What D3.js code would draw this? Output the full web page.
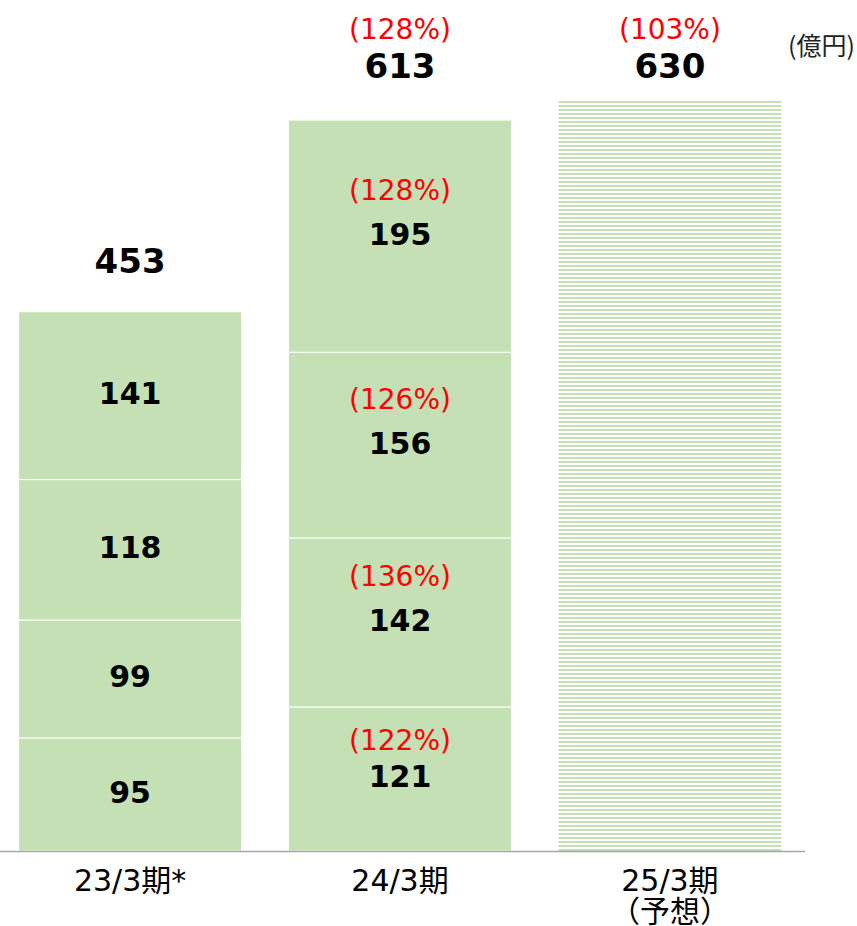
<!DOCTYPE html>
<html>
<head>
<meta charset="utf-8">
<script src="https://cdn.jsdelivr.net/npm/d3@7"></script>
<style>
  body { margin: 0; background: #fff; }
  text { font-family: "DejaVu Sans", "Noto Sans CJK JP", sans-serif; }
</style>
</head>
<body>
<div class="chart"></div>
<script>
var svgWidth = 857;
var svgHeight = 926;

// data
var categories = ["23/3期*", "24/3期", "25/3期"];
var categoryNotes = ["", "", "（予想）"];
var quarters = ["Q1", "Q2", "Q3", "Q4"];
var q1 = [95, 121, null];
var q2 = [99, 142, null];
var q3 = [118, 156, null];
var q4 = [141, 195, null];
var q1Growth = [null, "122%", null];
var q2Growth = [null, "136%", null];
var q3Growth = [null, "126%", null];
var q4Growth = [null, "128%", null];
var totals = [453, 613, 630];
var totalGrowth = [null, "128%", "103%"];
var forecast = [false, false, true];
var unitLabel = "(億円)";

var green = "#c5e0b4";
var red = "#ff0000";

var svg = d3.select(".chart")
  .append("svg")
  .attr("width", svgWidth)
  .attr("height", svgHeight);

// striped fill for the forecast bar
var pattern = svg.append("defs").append("pattern")
  .attr("id", "stripes")
  .attr("patternUnits", "userSpaceOnUse")
  .attr("width", 8)
  .attr("height", 4)
  .attr("y", 101);
pattern.append("rect")
  .attr("width", 8).attr("height", 2)
  .attr("fill", green);

var x = d3.scaleBand()
  .domain(categories)
  .range([-5, 805])
  .paddingInner(0.174)
  .paddingOuter(0.0875);

var y = d3.scaleLinear()
  .domain([0, 630])
  .range([851, 101]);

// build stacked rows
var rows = categories.map(function(c, i) {
  var row = { category: c };
  row.Q1 = q1[i] || 0; row.Q2 = q2[i] || 0; row.Q3 = q3[i] || 0; row.Q4 = q4[i] || 0;
  return row;
});
var growth = { Q1: q1Growth, Q2: q2Growth, Q3: q3Growth, Q4: q4Growth };
var stack = d3.stack().keys(quarters)(rows);

var segs = [];
stack.forEach(function(layer) {
  layer.forEach(function(d, i) {
    if (d[1] - d[0] > 0) {
      segs.push({ key: layer.key, i: i, y0: d[0], y1: d[1], value: d[1] - d[0], pct: growth[layer.key][i] });
    }
  });
});

var chartGroup = svg.append("g");

chartGroup.selectAll("rect.seg")
  .data(segs)
  .enter()
  .append("rect")
  .attr("class", "seg")
  .attr("x", d => x(categories[d.i]))
  .attr("y", d => y(d.y1))
  .attr("width", x.bandwidth())
  .attr("height", d => y(d.y0) - y(d.y1))
  .attr("fill", green)
  .attr("stroke", "#fff")
  .attr("stroke-width", 1);

// forecast bar (total only)
chartGroup.selectAll("rect.fc")
  .data(totals.map((t, i) => ({ t: t, i: i })).filter(d => forecast[d.i]))
  .enter()
  .append("rect")
  .attr("class", "fc")
  .attr("x", d => x(categories[d.i]))
  .attr("y", d => y(d.t))
  .attr("width", x.bandwidth())
  .attr("height", d => y(0) - y(d.t))
  .attr("fill", "url(#stripes)");

// segment values
chartGroup.selectAll("text.val")
  .data(segs)
  .enter()
  .append("text")
  .attr("class", "val")
  .attr("x", d => x(categories[d.i]) + x.bandwidth() / 2)
  .attr("y", d => (y(d.y0) + y(d.y1)) / 2 - 2)
  .attr("text-anchor", "middle")
  .attr("dominant-baseline", "central")
  .attr("font-size", 30)
  .attr("font-weight", "bold")
  .attr("fill", "#000")
  .text(d => d.value);

chartGroup.selectAll("text.pct")
  .data(segs.filter(d => d.pct))
  .enter()
  .append("text")
  .attr("class", "pct")
  .attr("x", d => x(categories[d.i]) + x.bandwidth() / 2)
  .attr("y", d => Math.max((y(d.y0) + y(d.y1)) / 2 - 46, y(d.y1) + 34))
  .attr("text-anchor", "middle")
  .attr("dominant-baseline", "central")
  .attr("font-size", 28)
  .attr("fill", red)
  .text(d => "(" + d.pct + ")");

// totals
var totalData = totals.map((t, i) => ({ t: t, i: i, pct: totalGrowth[i] }));
chartGroup.selectAll("text.total")
  .data(totalData)
  .enter()
  .append("text")
  .attr("class", "total")
  .attr("x", d => x(categories[d.i]) + x.bandwidth() / 2)
  .attr("y", d => d.pct ? 66 : y(d.t) - 51)
  .attr("text-anchor", "middle")
  .attr("dominant-baseline", "central")
  .attr("font-size", 34)
  .attr("font-weight", "bold")
  .attr("fill", "#000")
  .text(d => d.t);

chartGroup.selectAll("text.tpct")
  .data(totalData.filter(d => d.pct))
  .enter()
  .append("text")
  .attr("class", "tpct")
  .attr("x", d => x(categories[d.i]) + x.bandwidth() / 2)
  .attr("y", 29)
  .attr("text-anchor", "middle")
  .attr("dominant-baseline", "central")
  .attr("font-size", 28)
  .attr("fill", red)
  .text(d => "(" + d.pct + ")");

// baseline axis
chartGroup.append("line")
  .attr("x1", 0).attr("x2", 805)
  .attr("y1", y(0) + 0.5).attr("y2", y(0) + 0.5)
  .attr("stroke", "#a6a6a6")
  .attr("stroke-width", 1.5);

// category labels
chartGroup.selectAll("text.cat")
  .data(categories)
  .enter()
  .append("text")
  .attr("class", "cat")
  .attr("x", d => x(d) + x.bandwidth() / 2)
  .attr("y", 880)
  .attr("text-anchor", "middle")
  .attr("dominant-baseline", "central")
  .attr("font-size", 30)
  .attr("fill", "#000")
  .text(d => d);

chartGroup.selectAll("text.note")
  .data(categories.map((c, i) => ({ c: c, note: categoryNotes[i] })).filter(d => d.note))
  .enter()
  .append("text")
  .attr("class", "note")
  .attr("x", d => x(d.c) + x.bandwidth() / 2)
  .attr("y", 909)
  .attr("text-anchor", "middle")
  .attr("dominant-baseline", "central")
  .attr("font-size", 30)
  .attr("fill", "#000")
  .style("font-family", '"Noto Sans CJK JP", sans-serif')
  .text(d => d.note);

// unit
svg.append("text")
  .attr("x", 855)
  .attr("y", 44)
  .attr("text-anchor", "end")
  .attr("dominant-baseline", "central")
  .attr("font-size", 25)
  .attr("fill", "#222")
  .style("font-family", '"Noto Sans CJK JP", sans-serif')
  .text(unitLabel);
</script>
</body>
</html>
